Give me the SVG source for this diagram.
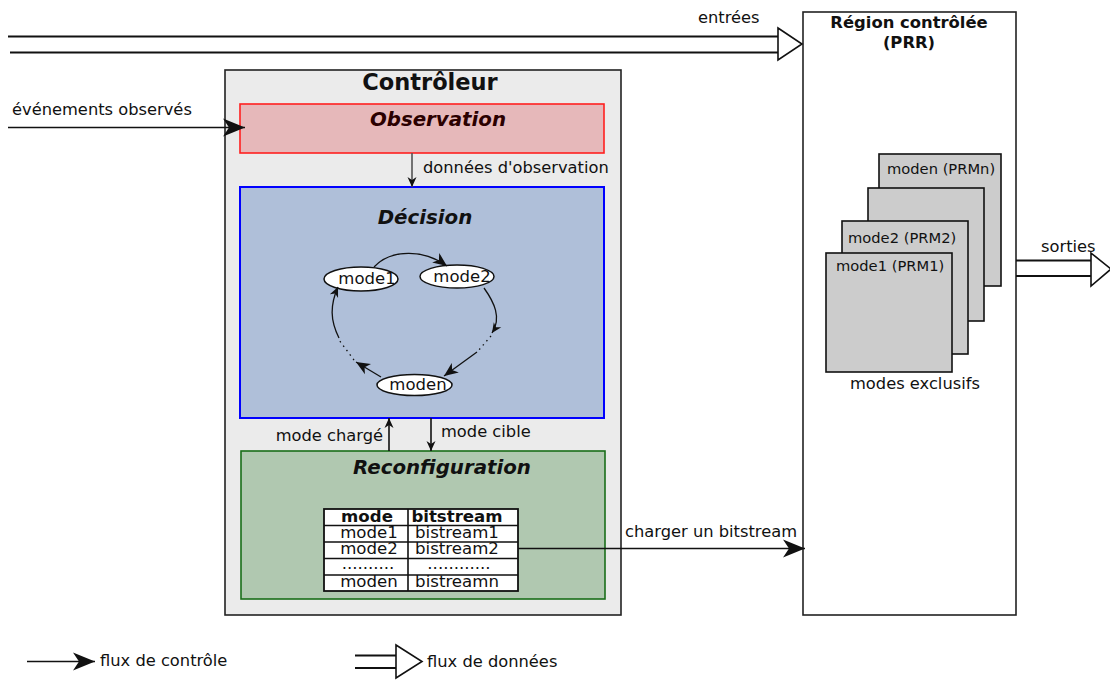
<svg xmlns="http://www.w3.org/2000/svg" width="1110" height="680" viewBox="0 0 1110 680">
<defs>
<style>
text{font-family:"DejaVu Sans","Liberation Sans",sans-serif;fill:#111}
.lbl{font-size:16.3px}
.tb{font-size:16.6px}
.el{font-size:16.5px}
.sm{font-size:14.7px}
.ttl{font-weight:bold;font-style:italic;font-size:19.8px}
.ln{stroke:#111;stroke-width:1.6;fill:none}
.df{stroke:#111;stroke-width:1.8;fill:none}
.tri{fill:#fff;stroke:#111;stroke-width:1.6}
.box{stroke-width:1.6}
</style>
<marker id="ab" markerUnits="userSpaceOnUse" viewBox="-22 -10 24 20" refX="0" refY="0" markerWidth="24" markerHeight="20" orient="auto">
<path d="M0,0 L-22,-9 L-16,0 L-22,9 Z" fill="#111"/>
</marker>
<marker id="am" markerUnits="userSpaceOnUse" viewBox="-14 -7 16 14" refX="0" refY="0" markerWidth="16" markerHeight="14" orient="auto">
<path d="M0,0 L-14,-6 L-10,0 L-14,6 Z" fill="#111"/>
</marker>
<marker id="as" markerUnits="userSpaceOnUse" viewBox="-11 -5 12 10" refX="0" refY="0" markerWidth="12" markerHeight="10" orient="auto">
<path d="M0,0 L-10,-4.5 L-7,0 L-10,4.5 Z" fill="#111"/>
</marker>
</defs>
<rect width="1110" height="680" fill="#fff"/>

<g id="controleur">
<rect x="225" y="70" width="396" height="545" fill="#ebebeb" stroke="#222" class="box"/>
<text x="430" y="90" text-anchor="middle" font-size="22.5" font-weight="bold">Contrôleur</text>
</g>

<g id="observation">
<rect x="240" y="104" width="364" height="49" fill="#e6b8ba" stroke="#ff2020" class="box"/>
<text x="438" y="126" text-anchor="middle" class="ttl" style="fill:#2b0000">Observation</text>
</g>

<g id="decision">
<rect x="240" y="187" width="364" height="231" fill="#afbfd9" stroke="#0000ff" stroke-width="2"/>
<text x="425" y="224" text-anchor="middle" class="ttl">Décision</text>
</g>

<g id="mode1"><ellipse cx="361" cy="279" rx="37" ry="12" fill="#fff" stroke="#111" stroke-width="1.5"/><text x="367" y="284" text-anchor="middle" class="el">mode1</text></g>
<g id="mode2"><ellipse cx="457" cy="276.5" rx="37" ry="11.5" fill="#fff" stroke="#111" stroke-width="1.5"/><text x="462" y="282" text-anchor="middle" class="el">mode2</text></g>
<g id="moden"><ellipse cx="414.5" cy="385" rx="37.5" ry="10.5" fill="#fff" stroke="#111" stroke-width="1.5"/><text x="418" y="390" text-anchor="middle" class="el">moden</text></g>

<g id="reconfiguration">
<rect x="241" y="451" width="364" height="148" fill="#b0c8b0" stroke="#1a6e1a" class="box"/>
<text x="442" y="474" text-anchor="middle" class="ttl">Reconfiguration</text>
</g>

<g id="table">
<rect x="324" y="509" width="194" height="82" fill="#fff" stroke="#111" stroke-width="1.8"/>
<path d="M324,525.5 H518 M324,542 H518 M324,558.5 H518 M324,575 H518 M408,509 V591" stroke="#111" stroke-width="1.6"/>
<text x="367" y="522" text-anchor="middle" class="tb" font-weight="bold">mode</text>
<text x="457" y="522" text-anchor="middle" class="tb" font-weight="bold">bitstream</text>
<text x="369" y="538" text-anchor="middle" class="tb">mode1</text>
<text x="457" y="538" text-anchor="middle" class="tb">bistream1</text>
<text x="369" y="554" text-anchor="middle" class="tb">mode2</text>
<text x="457" y="554" text-anchor="middle" class="tb">bistream2</text>
<text x="368" y="569" text-anchor="middle" class="tb">..........</text>
<text x="459" y="569" text-anchor="middle" class="tb">............</text>
<text x="369" y="587" text-anchor="middle" class="tb">moden</text>
<text x="457" y="587" text-anchor="middle" class="tb">bistreamn</text>
</g>

<g id="prr">
<rect x="803" y="12" width="213" height="603" fill="#fff" stroke="#222" class="box"/>
<text x="909" y="28" text-anchor="middle" font-size="16.4" font-weight="bold">Région contrôlée</text>
<text x="909" y="48" text-anchor="middle" font-size="16.4" font-weight="bold">(PRR)</text>
</g>

<g id="modes">
<rect x="879" y="154" width="122" height="132" fill="#ccc" stroke="#111" class="box"/>
<text x="887" y="174" class="sm">moden (PRMn)</text>
<rect x="868" y="188" width="116" height="133" fill="#ccc" stroke="#111" class="box"/>
<rect x="842" y="221" width="126" height="133" fill="#ccc" stroke="#111" class="box"/>
<text x="848" y="243" class="sm">mode2 (PRM2)</text>
<rect x="826" y="253" width="126" height="119" fill="#ccc" stroke="#111" class="box"/>
<text x="836" y="271" class="sm">mode1 (PRM1)</text>
<text x="850" y="389" class="lbl">modes exclusifs</text>
</g>

<g id="connectors">
<!-- entrées -->
<path d="M8,36.5 H778 M10,52.5 H778" class="df"/>
<path d="M778,28 L802,44 L778,60 Z" class="tri"/>
<text x="698" y="23" class="lbl">entrées</text>
<!-- sorties -->
<path d="M1016,260.5 H1091 M1016,276 H1091" class="df"/>
<path d="M1091,253 L1111,269 L1091,286 Z" class="tri"/>
<text x="1041" y="252" class="lbl">sorties</text>
<!-- événements observés -->
<path d="M8,127.5 H245" class="ln" marker-end="url(#ab)"/>
<text x="12" y="115" class="lbl">événements observés</text>
<!-- données d'observation -->
<path d="M412,153 V187" stroke="#555" stroke-width="1.6" fill="none" marker-end="url(#as)"/>
<text x="423" y="173" class="lbl">données d'observation</text>
<!-- mode chargé -->
<path d="M389,451 V418" class="ln" marker-end="url(#as)"/>
<text x="383" y="441" text-anchor="end" class="lbl">mode chargé</text>
<!-- mode cible -->
<path d="M431,418 V451" class="ln" marker-end="url(#as)"/>
<text x="441" y="437" class="lbl">mode cible</text>
<!-- charger un bitstream -->
<path d="M518,548.5 H805" class="ln" marker-end="url(#ab)"/>
<text x="625" y="537" class="lbl">charger un bitstream</text>
<!-- cycle -->
<path d="M374,267 C392,248 425,250 447,266" stroke="#111" stroke-width="1.3" fill="none" marker-end="url(#am)"/>
<path d="M484,288 C494,302 502,318 492,333" stroke="#111" stroke-width="1.3" fill="none" marker-end="url(#as)"/>
<path d="M491,336 L478,351" stroke="#111" stroke-width="1.3" fill="none" stroke-dasharray="1.5,4"/>
<path d="M477,352 L444,376" stroke="#111" stroke-width="1.3" fill="none" marker-end="url(#am)"/>
<path d="M381,377 L356,362" stroke="#111" stroke-width="1.3" fill="none" marker-end="url(#am)"/>
<path d="M354,360 L339,340" stroke="#111" stroke-width="1.3" fill="none" stroke-dasharray="1.5,4"/>
<path d="M339,338 C330,320 330,305 338,287" stroke="#111" stroke-width="1.3" fill="none" marker-end="url(#as)"/>
</g>

<g id="legende">
<path d="M27,661.5 H95" class="ln" marker-end="url(#ab)"/>
<text x="100" y="666" class="lbl">flux de contrôle</text>
<path d="M355,655.5 H396 M355,668 H396" class="df"/>
<path d="M396,645 L422,661.5 L396,678 Z" class="tri"/>
<text x="427" y="667" class="lbl">flux de données</text>
</g>
</svg>
